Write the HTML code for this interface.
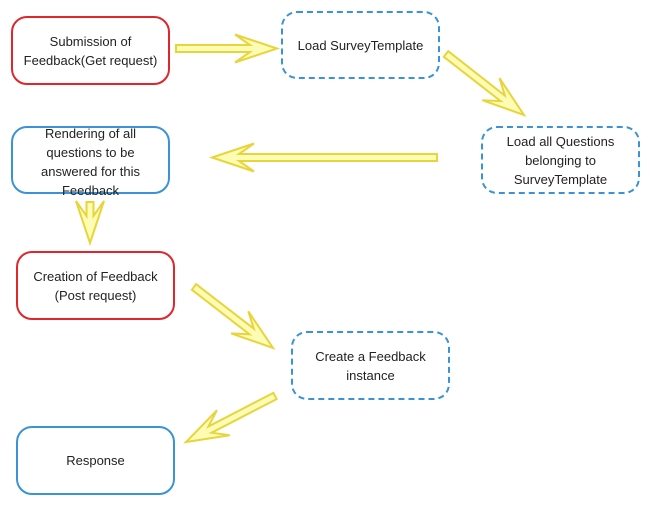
<!DOCTYPE html>
<html><head><style>
body{margin:0;background:#fff;width:650px;height:505px;overflow:hidden;position:relative;font-family:"Liberation Sans",sans-serif;font-size:13px;color:#222}
.b{position:absolute;box-sizing:border-box;border-radius:16px;display:flex;align-items:center;justify-content:center;text-align:center;line-height:19px}
.r{border:2px solid #e0262b}.s{border:2px solid #3a93d6}.d{border:2px dashed #3a93d6}
svg{position:absolute;left:0;top:0}
</style></head><body>
<svg width="650" height="505" id="sv"></svg>
<div class="b r" style="left:11px;top:16px;width:159px;height:69px">Submission of<br>Feedback(Get request)</div>
<div class="b d" style="left:281px;top:11px;width:159px;height:68px">Load SurveyTemplate</div>
<div class="b d" style="left:481px;top:126px;width:159px;height:68px">Load all Questions<br>belonging to<br>SurveyTemplate</div>
<div class="b s" style="left:11px;top:126px;width:159px;height:68px;align-items:flex-start;padding-top:-4px"><div style="margin-top:-4px">Rendering of all<br>questions to be<br>answered for this<br>Feedback</div></div>
<div class="b r" style="left:16px;top:251px;width:159px;height:69px">Creation of Feedback<br>(Post request)</div>
<div class="b d" style="left:291px;top:331px;width:159px;height:69px">Create a Feedback<br>instance</div>
<div class="b s" style="left:16px;top:426px;width:159px;height:69px">Response</div>
<script>
var sv=document.getElementById('sv');
function arr(x0,y0,x1,y1){
 var dx=x1-x0,dy=y1-y0,L=Math.hypot(dx,dy),ux=dx/L,uy=dy/L,nx=-uy,ny=ux;
 var sw=3.5,hw=14,hl=42,back=15;
 var pts=[[0,sw],[L-hl+back,sw],[L-hl,hw],[L,0],[L-hl,-hw],[L-hl+back,-sw],[0,-sw]];
 var s=pts.map(function(p){return (x0+ux*p[0]+nx*p[1]).toFixed(1)+','+(y0+uy*p[0]+ny*p[1]).toFixed(1)}).join(' ');
 var pg=document.createElementNS('http://www.w3.org/2000/svg','polygon');
 pg.setAttribute('points',s);pg.setAttribute('fill','#fcfcb4');pg.setAttribute('stroke','#e8d53c');pg.setAttribute('stroke-width','2');
 sv.appendChild(pg);
}
arr(176,48.5,277,48.5);
arr(446,54,524,115);
arr(437,157.5,212,157.5);
arr(90,202,90,243);
arr(194,287,273,348);
arr(275,396,186,442);
</script>
</body></html>
